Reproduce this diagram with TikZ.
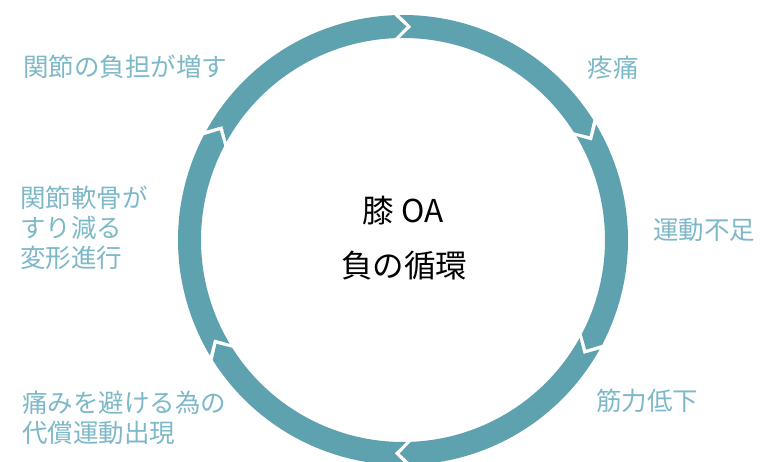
\documentclass[tikz,border=0pt]{standalone}
\usepackage{fontspec}
\newfontfamily\jpfont{Noto Sans CJK JP}
\definecolor{ringcol}{HTML}{5FA2AF}
\definecolor{lblcol}{HTML}{7DB8C8}
\begin{document}
\begin{tikzpicture}[x=1pt,y=1pt,
  lab/.style={text=lblcol, font=\jpfont\fontsize{25.5}{30}\selectfont, inner sep=0pt, align=left},
  ctr/.style={text=black, font=\jpfont\fontsize{31.5}{36}\selectfont, inner sep=0pt}]
\useasboundingbox (0,0) rectangle (760,462);
\clip (0,0) rectangle (760,462);
\begin{scope}[shift={(403,222)}]
\foreach \k in {0,...,5}{
  \pgfmathsetmacro\ta{90-60*\k+0.9}
  \pgfmathsetmacro\hc{90-60*\k-60+2.25}
  \pgfmathsetmacro\hp{90-60*\k-60-0.9}
  \pgfmathsetmacro\np{90-60*\k-2.25}
  \fill[ringcol] (\ta:225pt) arc[start angle=\ta, end angle=\hc, radius=225pt]
    -- (\hp:213.5pt) -- (\hc:202pt)
    arc[start angle=\hc, end angle=\ta, radius=202pt]
    -- (\np:213.5pt) -- cycle;
}
\end{scope}
\node[ctr] (t1) at (403,251) {膝 OA};
\node[ctr] (t2) at (404,196) {負の循環};
\node[lab] (l1) at (613,394) {疼痛};
\node[lab] (l2) at (704,232) {運動不足};
\node[lab] (l3) at (647,61) {筋力低下};
\node[lab, anchor=west] (l4) at (22,44.5) {痛みを避ける為の\\代償運動出現};
\node[lab, anchor=west] (l5) at (20,234) {関節軟骨が\\すり減る\\変形進行};
\node[lab, anchor=west] (l6) at (23,395) {関節の負担が増す};
\end{tikzpicture}
\end{document}
